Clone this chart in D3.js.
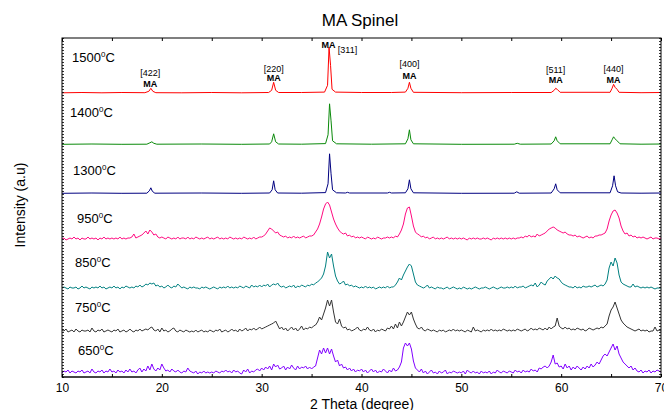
<!DOCTYPE html>
<html>
<head>
<meta charset="utf-8">
<script src="https://cdn.jsdelivr.net/npm/d3@7"></script>
<style>
  body { margin: 0; background: #fff; }
  svg { display: block; }
  text { font-family: "Liberation Sans", Arial, sans-serif; fill: #000; }
</style>
</head>
<body>
<svg id="chart" width="664" height="410"></svg>
<script>
// sample temperatures, top panel first
const temps = ["1500", "1400", "1300", "950", "850", "750", "650"];

// sintered samples: sparse [2theta, intensity] points
const pat1500 = [[10,0.5],[12,0.8],[14,0.5],[16,0.8],[18.3,0.6],[18.7,2],[18.9,5],[19.1,2],[19.4,0.6],[22,0.5],[25,0.8],[28,0.5],
  [30.7,0.8],[31.0,3],[31.2,11],[31.4,3],[31.7,0.8],[34,0.8],[36.3,1.2],[36.6,8],[36.75,46],[36.9,28],[37.05,4],[37.4,1.2],
  [40,0.8],[43,0.8],[44.4,1.2],[44.65,5],[44.8,11],[44.95,5],[45.2,1],[50,0.6],[55,0.8],[59.0,0.8],[59.3,3],[59.45,5],[59.6,4],
  [59.9,1],[64.9,1],[65.1,5],[65.25,9],[65.4,6],[65.6,4],[65.8,1],[68,0.6],[70,0.8]];
const pat1400 = [[10,0.5],[13,0.8],[16,0.5],[18.5,0.6],[18.8,2],[19.0,3],[19.2,1.5],[19.5,0.6],[24,0.8],[28,0.5],
  [30.8,0.8],[31.0,3],[31.2,11],[31.4,3],[31.7,0.8],[34,0.6],[36.4,1.2],[36.65,10],[36.8,41],[36.95,24],[37.1,4],[37.5,1],
  [41,0.6],[44.4,1],[44.65,6],[44.8,15],[44.95,5],[45.2,1],[50,0.5],[55.3,0.6],[55.6,1.5],[55.9,0.6],[59.0,0.8],[59.3,4],
  [59.45,8],[59.6,4],[59.9,1],[64.9,1],[65.1,5],[65.25,8],[65.4,6],[65.6,4],[65.9,1],[68,0.6],[70,0.8]];
const pat1300 = [[10,0.5],[13,0.8],[16,0.5],[18.5,0.6],[18.75,3],[18.9,6],[19.05,2.5],[19.3,0.6],[24,0.8],[28,0.5],
  [30.8,0.8],[31.05,4],[31.2,13],[31.35,4],[31.6,0.8],[34,0.6],[36.4,1.2],[36.65,10],[36.8,40],[36.95,20],[37.1,4],[37.5,1],
  [38.4,0.8],[38.6,1.5],[38.8,0.8],[42.6,0.8],[42.8,1.5],[43,0.8],[44.4,1],[44.65,5],[44.8,14],[44.95,5],[45.2,1],[50,0.5],
  [55.3,0.6],[55.55,2],[55.8,0.6],[59.0,0.8],[59.3,5],[59.45,10],[59.6,4],[59.9,1],[64.9,1],[65.15,8],[65.3,18],[65.45,8],
  [65.65,2],[66,0.8],[68,0.6],[70,0.8]];

// calcined powders: intensity every 0.2 deg from 10.0 to 70.0, one row per 5 deg
const scanStart = 10, scanStep = 0.2;
const scan950 = [
  2,3,1,2,3,2,4,2,3,1,3,2,2,4,2,3,2,3,1,3,2,4,2,3,2,
  3,2,3,2,4,2,3,2,3,3,4,7,3,4,5,6,8,10,7,11,9,6,7,4,3,
  4,3,2,4,3,2,3,2,4,2,3,3,2,4,2,3,2,4,3,2,3,2,3,4,2,
  3,2,3,4,2,3,2,3,2,4,3,2,3,2,3,2,4,3,2,3,2,4,2,3,4,
  4,5,7,10,13,12,10,8,9,6,5,4,5,3,4,3,5,3,4,3,4,5,3,4,5,
  5,6,9,12,17,24,32,37,39,36,29,22,17,13,10,8,7,8,5,6,4,5,3,4,3,
  4,3,2,4,3,2,3,2,4,3,2,3,3,4,3,4,3,5,4,7,11,17,27,33,34,
  25,15,9,7,6,4,5,3,4,2,3,4,2,3,2,3,2,3,4,2,3,2,3,2,3,
  2,3,2,1,3,2,3,2,3,2,2,3,2,3,2,1,3,2,3,2,3,2,3,2,3,
  2,3,2,3,3,4,3,5,4,6,4,5,4,7,5,6,7,8,10,12,13,14,13,11,10,
  9,8,9,7,6,6,5,6,4,5,4,3,4,5,3,4,3,5,5,6,6,7,8,12,20,
  26,30,31,28,23,15,10,7,8,5,6,4,5,3,4,3,4,3,2,3,4,2,3,3,2,
  3];
const scan850 = [
  2,3,2,1,3,2,2,3,1,2,4,2,3,2,1,3,2,3,2,4,2,3,1,2,3,
  2,4,2,3,1,3,2,4,3,2,3,2,4,3,5,3,4,6,5,7,6,7,4,5,3,
  4,2,3,5,3,2,4,3,6,4,2,3,2,1,3,2,3,2,2,1,3,2,3,2,1,
  2,3,2,1,3,2,3,2,4,2,3,2,3,2,4,3,2,4,3,2,5,3,4,3,5,
  3,5,4,6,3,5,6,5,7,4,3,4,2,3,4,3,5,2,4,3,5,4,3,5,4,
  6,5,7,8,10,12,16,24,38,32,36,24,14,9,6,7,9,5,6,4,5,3,4,3,2,
  3,2,4,2,3,2,3,1,2,3,2,3,2,4,2,3,3,5,8,12,10,15,19,23,26,
  24,16,8,5,4,3,2,3,5,2,3,2,1,3,2,2,1,2,3,1,2,3,2,1,2,
  1,3,2,1,2,1,2,3,2,1,2,2,3,2,1,2,3,2,1,2,3,2,2,3,2,
  3,2,4,2,3,3,4,2,3,4,5,4,7,3,5,8,6,5,9,11,13,11,14,12,11,
  8,6,5,4,3,3,2,4,2,3,2,4,3,3,4,3,4,5,3,4,5,4,6,10,22,
  28,24,32,27,15,8,6,5,4,3,3,6,3,4,3,2,3,2,3,2,3,2,1,2,2,
  2];
const scan750 = [
  4,3,5,2,3,4,2,5,3,2,4,3,3,4,2,6,3,2,4,3,5,2,3,4,3,
  2,4,3,5,2,3,4,2,3,5,3,2,4,3,5,3,4,5,4,6,7,4,3,5,2,
  6,3,4,2,3,5,6,3,2,4,3,2,4,3,2,3,2,4,2,3,4,2,3,2,4,
  3,2,4,3,5,2,3,4,2,3,5,3,4,2,5,3,4,6,3,5,4,6,4,5,7,
  5,6,7,8,9,10,11,13,9,5,7,4,6,3,5,7,4,6,3,5,8,4,6,5,7,
  6,8,9,12,17,14,20,26,34,28,34,22,12,10,15,8,6,7,4,5,3,4,5,7,4,
  3,5,4,7,4,3,5,2,4,3,5,4,3,6,5,8,5,10,6,12,8,12,17,22,19,
  22,15,10,6,5,7,4,3,5,4,3,4,3,2,4,3,4,2,3,4,3,5,3,4,3,
  4,3,2,4,3,2,7,3,4,3,2,4,3,4,3,5,3,4,3,4,3,5,4,3,4,
  3,4,3,5,4,3,4,5,3,4,6,4,5,4,6,5,4,6,4,7,5,7,8,16,8,
  6,5,7,5,6,4,5,4,6,5,4,5,3,4,6,5,4,5,6,5,7,6,8,10,18,
  24,27,32,26,20,14,11,9,7,6,5,4,3,4,5,3,4,3,4,2,3,3,7,3,4,
  3];
const scan650 = [
  3,5,4,6,3,5,4,3,5,4,6,3,4,5,3,7,4,3,5,4,6,3,5,4,7,
  4,5,3,6,4,5,3,6,4,7,4,5,3,6,8,4,7,5,10,6,12,7,5,8,6,
  12,8,5,6,4,7,5,4,6,4,3,5,4,8,5,4,3,5,2,4,3,5,3,4,3,
  4,3,5,4,3,5,4,6,4,5,3,6,4,5,3,2,6,4,7,3,5,4,6,7,5,
  8,6,9,7,10,6,12,9,11,7,8,10,6,9,7,11,8,6,10,7,9,8,10,7,9,
  7,9,10,18,26,22,28,23,28,22,27,20,14,16,10,12,8,9,6,8,5,7,4,6,5,
  7,4,6,3,5,7,4,6,3,5,4,7,5,3,6,4,8,5,6,9,14,28,33,30,33,
  27,15,8,6,4,7,3,5,2,4,6,3,4,2,5,3,4,6,2,4,3,5,4,3,4,
  3,5,2,6,4,3,5,3,4,2,5,3,4,3,5,2,4,3,6,4,3,5,4,3,5,
  4,3,6,4,5,3,6,4,5,4,7,5,6,4,8,7,9,10,8,10,14,21,12,13,9,
  10,7,12,8,10,6,9,7,10,8,6,9,7,10,8,12,9,11,14,12,16,20,22,20,24,
  28,32,26,30,22,18,14,12,10,8,10,6,8,5,4,6,3,5,4,6,3,5,4,6,5,
  4];

// MA spinel reflections marked on the 1500 C pattern
const peakHkl = ["[422]", "[220]", "[311]", "[400]", "[511]", "[440]"];
const peakPos = [18.85, 31.2, 36.75, 44.8, 59.45, 65.25];

const xTicks = [10, 20, 30, 40, 50, 60, 70];

// ---------- layout ----------
const W = 664, H = 410;
const plot = { left: 62, right: 661, top: 38, bottom: 377 };
const zeroPx = [93.3, 144.8, 193.8, 241, 290, 334, 376];   // where intensity 0 sits in each panel
const labelY = [57, 112, 170, 218, 262, 307, 350];
const labelX = [72, 70, 73, 77, 75, 75, 78];
const colors = ["#ff0000", "#0a8a0a", "#000080", "#ff0a80", "#008080", "#333333", "#8000ff"];
const maLift = [9.5, 15.2, 48.5, 17.5, 13.2, 13.5];
const hklLift = [20.8, 24.5, 43.5, 29.8, 23.8, 24.2];
const hklShift = [0, 0, 1.85, 0, 0, 0];

const toPairs = arr => arr.map((v, i) => [scanStart + i * scanStep, v]);
const series = [pat1500, pat1400, pat1300, toPairs(scan950), toPairs(scan850), toPairs(scan750), toPairs(scan650)];

const svg = d3.select("#chart");

const x = d3.scaleLinear().domain([10, 70]).range([plot.left, plot.right]);
const yPanel = temps.map((t, i) => d3.scaleLinear().domain([0, 50]).range([zeroPx[i], zeroPx[i] - 50]));

svg.append("defs").append("clipPath").attr("id", "clip")
  .append("rect")
  .attr("x", plot.left).attr("y", plot.top)
  .attr("width", plot.right - plot.left).attr("height", plot.bottom - plot.top);

// title
svg.append("text")
  .attr("x", 360).attr("y", 26)
  .attr("text-anchor", "middle")
  .attr("font-size", 17)
  .text("MA Spinel");

// patterns
const lines = svg.append("g").attr("clip-path", "url(#clip)");
series.forEach((d, i) => {
  const line = d3.line().x(p => x(p[0])).y(p => yPanel[i](p[1]));
  lines.append("path")
    .datum(d)
    .attr("fill", "none")
    .attr("stroke", colors[i])
    .attr("stroke-width", 1)
    .attr("stroke-linejoin", "round")
    .attr("d", line);
});

// temperature labels with superscript 0
temps.forEach((t, i) => {
  const lab = svg.append("text")
    .attr("x", labelX[i]).attr("y", labelY[i] + 4.5)
    .attr("font-size", 13);
  lab.append("tspan").text(t);
  lab.append("tspan").attr("font-size", 8).attr("dy", -5).text("0");
  lab.append("tspan").attr("dy", 5).text("C");
});

// reflection labels
const ann = svg.append("g").attr("text-anchor", "middle").attr("font-size", 9);
peakHkl.forEach((h, i) => {
  ann.append("text")
    .attr("x", x(peakPos[i] - (i === 2 ? 0.05 : 0)))
    .attr("y", yPanel[0](maLift[i]))
    .attr("dy", "0.35em")
    .attr("font-weight", "bold")
    .text("MA");
  ann.append("text")
    .attr("x", x(peakPos[i] + hklShift[i]))
    .attr("y", yPanel[0](hklLift[i]))
    .attr("dy", "0.35em")
    .text(h);
});

// frame
svg.append("rect")
  .attr("x", plot.left).attr("y", plot.top)
  .attr("width", plot.right - plot.left).attr("height", plot.bottom - plot.top)
  .attr("fill", "none").attr("stroke", "#000").attr("stroke-width", 1);
svg.append("line")
  .attr("x1", plot.left).attr("x2", plot.right)
  .attr("y1", plot.bottom).attr("y2", plot.bottom)
  .attr("stroke", "#333").attr("stroke-width", 1.5);

// bottom axis, ticks inside
const xAxis = svg.append("g")
  .attr("transform", `translate(0,${plot.bottom})`)
  .call(d3.axisBottom(x).tickValues(d3.range(10, 71, 5)).tickSize(-3).tickPadding(6)
    .tickFormat(d => xTicks.includes(d) ? d : ""));
xAxis.select(".domain").remove();
xAxis.selectAll("text").attr("font-size", 12).attr("font-family", "Liberation Sans, Arial, sans-serif");

// top axis ticks
const topAxis = svg.append("g")
  .attr("transform", `translate(0,${plot.top})`)
  .call(d3.axisTop(x).tickValues(d3.range(10, 71, 5)).tickSize(-3).tickFormat(""));
topAxis.select(".domain").remove();

// dense minor ticks on both vertical sides
const yMinor = d3.scaleLinear().domain([0, 113]).range([plot.bottom, plot.top]);
const sideTicks = svg.append("g").attr("stroke", "#000").attr("stroke-width", 0.8);
d3.range(0, 114).forEach(k => {
  const yy = Math.round(yMinor(k)) + 0.5;
  sideTicks.append("line").attr("x1", plot.left).attr("x2", plot.left + 2).attr("y1", yy).attr("y2", yy);
  sideTicks.append("line").attr("x1", plot.right - 2).attr("x2", plot.right).attr("y1", yy).attr("y2", yy);
});

// axis titles
svg.append("text")
  .attr("x", 362).attr("y", 409)
  .attr("text-anchor", "middle")
  .attr("font-size", 14)
  .text("2 Theta (degree)");

svg.append("text")
  .attr("transform", "translate(25,205) rotate(-90)")
  .attr("text-anchor", "middle")
  .attr("font-size", 14)
  .text("Intensity (a.u)");
</script>
</body>
</html>
